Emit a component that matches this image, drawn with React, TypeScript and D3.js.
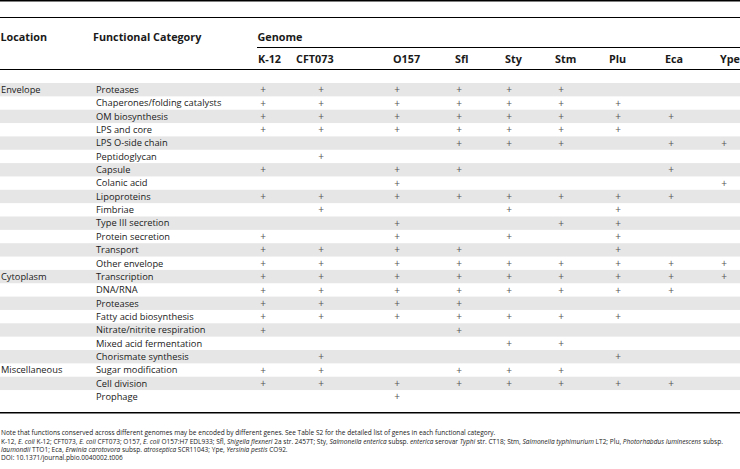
import React from "react";
import * as d3 from "d3";

const genomes = ["K-12", "CFT073", "O157", "Sfl", "Sty", "Stm", "Plu", "Eca", "Ype"];
const headerX = [258, 296, 393, 455, 505, 555, 609, 665, 720];
const plusX = [263, 321, 397, 459, 509, 561, 618, 671, 724];

const categories = [
  "Proteases",
  "Chaperones/folding catalysts",
  "OM biosynthesis",
  "LPS and core",
  "LPS O-side chain",
  "Peptidoglycan",
  "Capsule",
  "Colanic acid",
  "Lipoproteins",
  "Fimbriae",
  "Type III secretion",
  "Protein secretion",
  "Transport",
  "Other envelope",
  "Transcription",
  "DNA/RNA",
  "Proteases",
  "Fatty acid biosynthesis",
  "Nitrate/nitrite respiration",
  "Mixed acid fermentation",
  "Chorismate synthesis",
  "Sugar modification",
  "Cell division",
  "Prophage",
];

const locations = [
  { label: "Envelope", row: 0 },
  { label: "Cytoplasm", row: 14 },
  { label: "Miscellaneous", row: 21 },
];

const presence: string[][] = [
  ["K-12", "CFT073", "O157", "Sfl", "Sty", "Stm"],
  ["K-12", "CFT073", "O157", "Sfl", "Sty", "Stm", "Plu"],
  ["K-12", "CFT073", "O157", "Sfl", "Sty", "Stm", "Plu", "Eca"],
  ["K-12", "CFT073", "O157", "Sfl", "Sty", "Stm", "Plu"],
  ["Sfl", "Sty", "Stm", "Eca", "Ype"],
  ["CFT073"],
  ["K-12", "O157", "Sfl", "Eca"],
  ["O157", "Ype"],
  ["K-12", "CFT073", "O157", "Sfl", "Sty", "Stm", "Plu", "Eca"],
  ["CFT073", "Sty", "Plu"],
  ["O157", "Stm", "Plu"],
  ["K-12", "O157", "Sty", "Plu"],
  ["K-12", "CFT073", "O157", "Sfl", "Plu"],
  ["K-12", "CFT073", "O157", "Sfl", "Sty", "Stm", "Plu", "Eca", "Ype"],
  ["K-12", "CFT073", "O157", "Sfl", "Sty", "Stm", "Plu", "Eca", "Ype"],
  ["K-12", "CFT073", "O157", "Sfl", "Sty", "Stm", "Plu", "Eca"],
  ["K-12", "CFT073", "O157", "Sfl"],
  ["K-12", "CFT073", "O157", "Sfl", "Sty", "Stm", "Plu"],
  ["K-12", "Sfl"],
  ["Sty", "Stm"],
  ["CFT073", "Plu"],
  ["K-12", "CFT073", "Sfl", "Sty", "Stm"],
  ["K-12", "CFT073", "O157", "Sfl", "Sty", "Stm", "Plu", "Eca"],
  ["O157"],
];

const W = 740;
const H = 469;
const FONT = "'Open Sans', 'Noto Sans', sans-serif";

export default function App() {
  const y = d3
    .scaleBand<number>()
    .domain(d3.range(categories.length))
    .range([83, 83 + categories.length * 13.35])
    .padding(0);
  const xHead = d3.scaleOrdinal<string, number>().domain(genomes).range(headerX);
  const xPlus = d3.scaleOrdinal<string, number>().domain(genomes).range(plusX);
  const bh = y.bandwidth();
  const textColor = "#1a1a1a";

  return (
    <svg
      width={W}
      height={H}
      style={{ position: "absolute", left: 0, top: 0, background: "#fff" }}
      fontFamily={FONT}
    >
      <rect x={0} y={0} width={W} height={H} fill="#fff" />
      <line x1={0} x2={W} y1={0.75} y2={0.75} stroke="#000" strokeWidth={1.5} />
      <line x1={0} x2={W} y1={17.5} y2={17.5} stroke="#000" strokeWidth={1} />
      <line x1={257} x2={W} y1={47.5} y2={47.5} stroke="#000" strokeWidth={1} />
      <line x1={0} x2={W} y1={69.5} y2={69.5} stroke="#000" strokeWidth={1} />

      <g fontWeight="bold" fontSize={10.8} fill={textColor}>
        <text x={0.5} y={41}>Location</text>
        <text x={93} y={41}>Functional Category</text>
        <text x={257.5} y={41}>Genome</text>
        {genomes.map((g) => (
          <text key={g} x={xHead(g)} y={62.5}>{g}</text>
        ))}
      </g>

      {categories.map((c, i) =>
        i % 2 === 0 ? (
          <rect key={"s" + i} x={0} y={y(i)} width={W} height={bh} fill="#e6e6e6" />
        ) : null
      )}

      <g fontSize={9.3} fill={textColor}>
        {categories.map((c, i) => (
          <text key={"c" + i} x={96} y={(y(i) as number) + bh / 2 + 3.3}>{c}</text>
        ))}
        {locations.map((l) => (
          <text key={l.label} x={1} y={(y(l.row) as number) + bh / 2 + 3.3}>{l.label}</text>
        ))}
      </g>

      <g fontSize={10} fill="#555" textAnchor="middle">
        {presence.map((row, i) =>
          row.map((g) => (
            <text key={i + g} x={xPlus(g)} y={(y(i) as number) + bh / 2 + 3.6}>+</text>
          ))
        )}
      </g>

      <line x1={0} x2={W} y1={412.75} y2={412.75} stroke="#000" strokeWidth={1.5} />

      <g fontSize={6.55} fill={textColor}>
        <text x={1} y={435}>
          Note that functions conserved across different genomes may be encoded by different genes. See Table S2 for the detailed list of genes in each functional category.
        </text>
        <text x={1} y={443.5}>
          K-12, <tspan fontStyle="italic">E. coli</tspan> K-12; CFT073, <tspan fontStyle="italic">E. coli</tspan> CFT073; O157, <tspan fontStyle="italic">E. coli</tspan> O157:H7 EDL933; Sfl, <tspan fontStyle="italic">Shigella flexneri</tspan> 2a str. 2457T; Sty, <tspan fontStyle="italic">Salmonella enterica</tspan> subsp. <tspan fontStyle="italic">enterica</tspan> serovar <tspan fontStyle="italic">Typhi</tspan> str. CT18; Stm, <tspan fontStyle="italic">Salmonella typhimurium</tspan> LT2; Plu, <tspan fontStyle="italic">Photorhabdus luminescens</tspan> subsp.
        </text>
        <text x={1} y={452}>
          <tspan fontStyle="italic">laumondii</tspan> TTO1; Eca, <tspan fontStyle="italic">Erwinia carotovora</tspan> subsp. <tspan fontStyle="italic">atroseptica</tspan> SCR11043; Ype, <tspan fontStyle="italic">Yersinia pestis</tspan> CO92.
        </text>
        <text x={1} y={460}>DOI: 10.1371/journal.pbio.0040002.t006</text>
      </g>
    </svg>
  );
}
